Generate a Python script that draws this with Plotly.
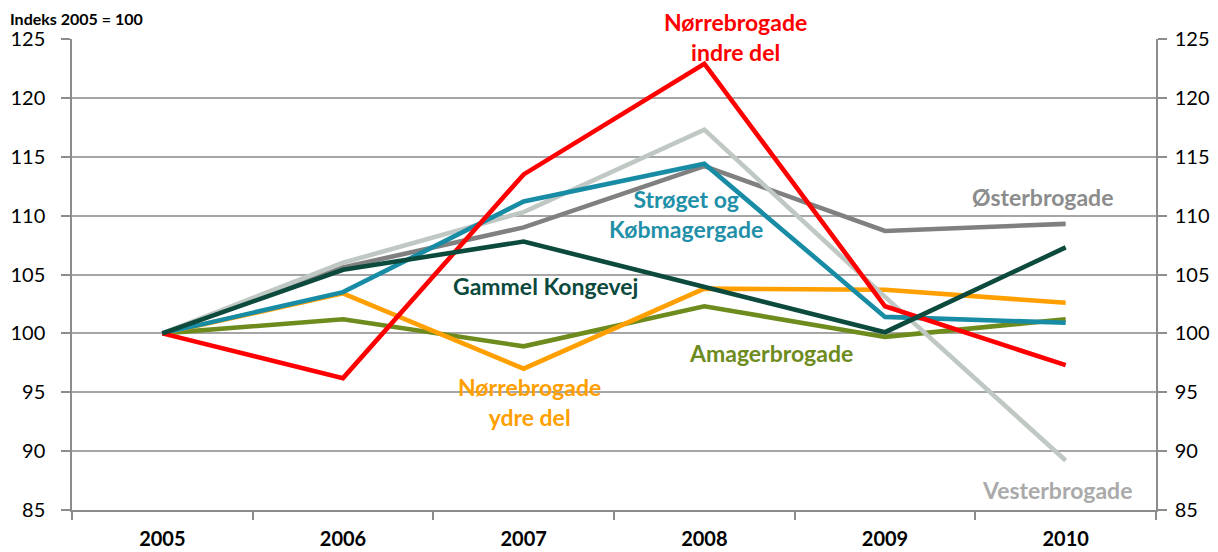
import plotly.graph_objects as go

years = ["2005", "2006", "2007", "2008", "2009", "2010"]

norrebro_indre = [100, 96.2, 113.5, 122.9, 102.3, 97.3]
vesterbrogade = [100, 106.0, 110.3, 117.3, 103.1, 89.2]
stroget = [100, 103.5, 111.2, 114.4, 101.4, 100.9]
osterbrogade = [100, 105.6, 109.0, 114.2, 108.7, 109.3]
gammel_kongevej = [100, 105.4, 107.8, 103.9, 100.1, 107.3]
norrebro_ydre = [100, 103.4, 97.0, 103.8, 103.7, 102.6]
amagerbrogade = [100, 101.2, 98.9, 102.3, 99.7, 101.2]

y_ticks = [85, 90, 95, 100, 105, 110, 115, 120, 125]

series = [
    ("Amagerbrogade", amagerbrogade, "#6E8B1E"),
    ("Nørrebrogade ydre del", norrebro_ydre, "#FF9F00"),
    ("Østerbrogade", osterbrogade, "#808080"),
    ("Vesterbrogade", vesterbrogade, "#C0C8C3"),
    ("Strøget og Købmagergade", stroget, "#178CA4"),
    ("Nørrebrogade indre del", norrebro_indre, "#FF0000"),
    ("Gammel Kongevej", gammel_kongevej, "#0B4A3D"),
]

FONT = "Lato"
fig = go.Figure()
for name, vals, col in series:
    fig.add_trace(go.Scatter(x=years, y=vals, mode="lines", name=name,
                             line=dict(color=col, width=4.6), showlegend=False))

# trace for the right-hand mirror axis
fig.add_trace(go.Scatter(x=years, y=amagerbrogade, mode="none", yaxis="y2",
                         showlegend=False, hoverinfo="skip"))

labels = [
    ("Strøget og<br>Købmagergade", 2.9, 110.1, "#1F90A8"),
    ("Østerbrogade", 4.87, 111.55, "#8C8C8C"),
    ("Gammel Kongevej", 2.12, 104.0, "#0B4A3D"),
    ("Amagerbrogade", 3.37, 98.3, "#6E8B1E"),
    ("Nørrebrogade<br>ydre del", 2.03, 94.2, "#FF9F00"),
    ("Vesterbrogade", 4.95, 86.7, "#AAAAAA"),
]
for txt, xv, yv, col in labels:
    fig.add_annotation(x=xv, y=yv, text=f"<b>{txt}</b>", showarrow=False,
                       font=dict(family=FONT, size=23, color=col),
                       yanchor="middle", align="center", xref="x", yref="y")

# label above the top of the axis range: vertical position in paper units
fig.add_annotation(x=3.17, y=1.0, xref="x", yref="paper", yshift=2,
                   text="<b>Nørrebrogade<br>indre del</b>", showarrow=False,
                   font=dict(family=FONT, size=23, color="#FF0000"),
                   yanchor="middle", align="center")

fig.add_annotation(x=0, y=1, xref="paper", yref="paper", xshift=-64, yshift=32,
                   text="<b>Indeks 2005 = 100</b>", showarrow=False,
                   xanchor="left", yanchor="top",
                   font=dict(family=FONT, size=16, color="#000000"))

# page body has an 8px margin, so the figure is 8px smaller than the window
fig.update_layout(
    width=1210, height=544,
    margin=dict(l=64, r=62, t=31, b=42, autoexpand=False),
    paper_bgcolor="white", plot_bgcolor="white",
    font=dict(family=FONT, size=20, color="#000000"),
    xaxis=dict(type="category", range=[-0.5, 5.5], showgrid=False,
               showline=True, linecolor="#8C8C8C", linewidth=1.5,
               ticks="outside", tickson="boundaries", ticklen=8,
               tickcolor="#8C8C8C", tickwidth=1.5, automargin=False,
               tickfont=dict(family=FONT, size=20, color="#000000", weight="bold"),
               ticklabelstandoff=10),
    yaxis=dict(range=[85, 125], tickvals=y_ticks, showgrid=True,
               gridcolor="#A6A6A6", gridwidth=1.5, zeroline=False,
               showline=True, linecolor="#8C8C8C", linewidth=1.5,
               ticks="outside", ticklen=9, tickcolor="#8C8C8C", tickwidth=1.5,
               automargin=False,
               tickfont=dict(family=FONT, size=20, color="#000000"),
               ticklabelstandoff=12),
    yaxis2=dict(range=[85, 125], tickvals=y_ticks, overlaying="y", side="right",
                showgrid=False, zeroline=False, automargin=False,
                showline=True, linecolor="#8C8C8C", linewidth=1.5,
                ticks="outside", ticklen=9, tickcolor="#8C8C8C", tickwidth=1.5,
                tickfont=dict(family=FONT, size=20, color="#000000"),
                ticklabelstandoff=4),
)

fig.write_html("out.html")
